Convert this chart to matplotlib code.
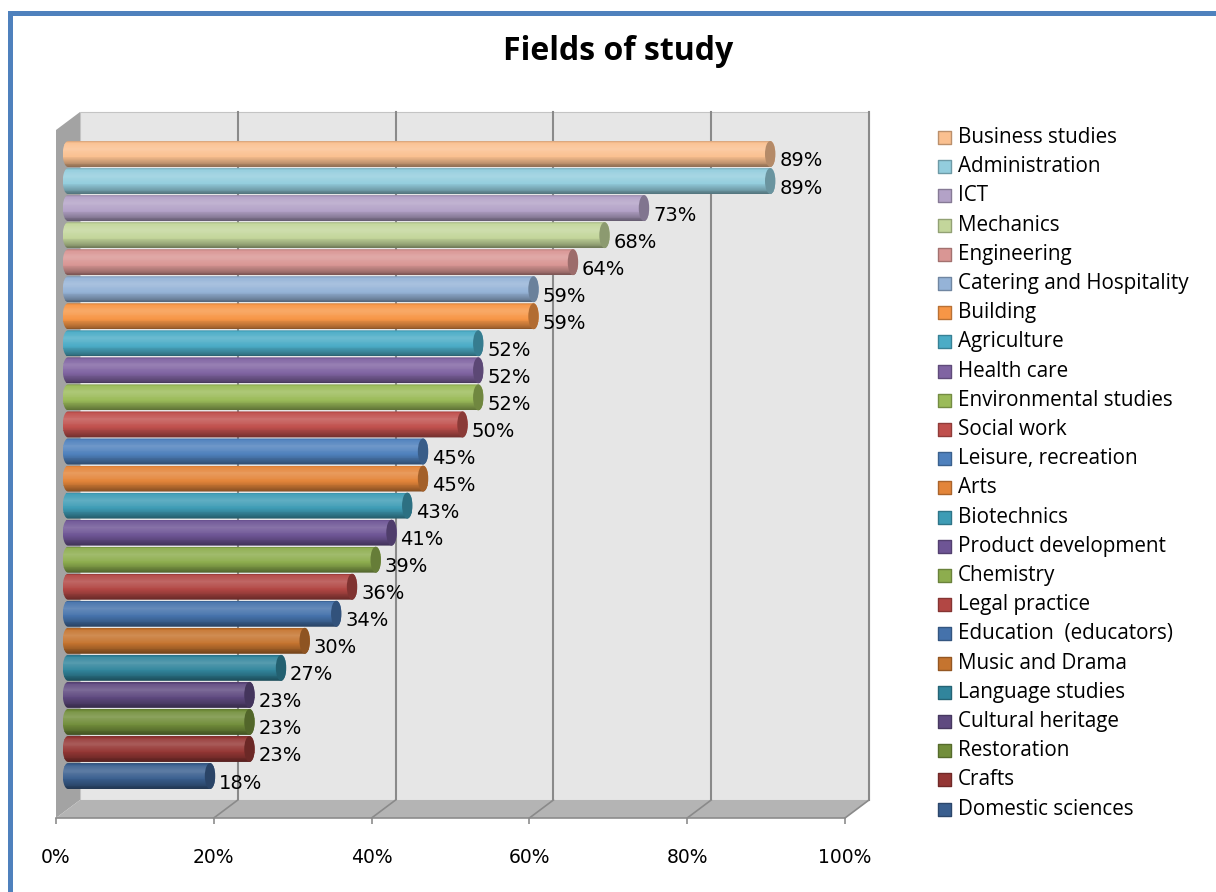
import numpy as np
import matplotlib
matplotlib.use("Agg")
import matplotlib.pyplot as plt
from matplotlib import transforms
from matplotlib.patches import Polygon, Ellipse, Rectangle
from matplotlib.colors import to_rgb

fields = ["Business studies", "Administration", "ICT", "Mechanics", "Engineering",
          "Catering and Hospitality", "Building", "Agriculture", "Health care",
          "Environmental studies", "Social work", "Leisure, recreation", "Arts",
          "Biotechnics", "Product development", "Chemistry", "Legal practice",
          "Education  (educators)", "Music and Drama", "Language studies",
          "Cultural heritage", "Restoration", "Crafts", "Domestic sciences"]
shares = [89, 89, 73, 68, 64, 59, 59, 52, 52, 52, 50, 45, 45, 43, 41, 39, 36, 34,
          30, 27, 23, 23, 23, 18]
colors = ["#FAC090", "#93CDDD", "#B3A2C7", "#C3D69B", "#D99694", "#95B3D7",
          "#F79646", "#4BACC6", "#8064A2", "#9BBB59", "#C0504D", "#4F81BD",
          "#E3853A", "#3E9CB5", "#6E5595", "#8DAD4E", "#B24744", "#4572AB",
          "#C5742F", "#31859C", "#5F4A80", "#728E3B", "#953735", "#3A5F8F"]
ticks = [0, 20, 40, 60, 80, 100]


def shade(c, f):
    rgb = np.array(to_rgb(c))
    if f >= 1:
        return tuple(rgb + (1 - rgb) * (f - 1))
    return tuple(rgb * f)


W, H = 1216, 892
fig = plt.figure(figsize=(W / 100, H / 100), dpi=100)

# front plane of the 3d box
x0, x1, ytop, ybot = 56, 845, 130, 818
ax = fig.add_axes([x0 / W, 1 - ybot / H, (x1 - x0) / W, (ybot - ytop) / H])
n = len(fields)
lo, hi = -1.22, n - 1 + 1.22
ax.set_xlim(0, 100)
ax.set_ylim(hi, lo)
ax.patch.set_visible(False)
for s in ["top", "right", "left"]:
    ax.spines[s].set_visible(False)
ax.spines["bottom"].set_color("#8c8c8c")
ax.spines["bottom"].set_linewidth(1.2)
ax.set_xticks(ticks)
ax.set_xticklabels([f"{t}%" for t in ticks])
ax.set_yticks([])
ax.tick_params(axis="x", length=4.3, width=1.2, color="#8c8c8c", pad=17,
               labelsize=13.5)

# depth of the box in pixels
DX, DY = 24, 18
back = transforms.offset_copy(ax.transData, fig=fig, x=DX, y=DY, units="dots")
mid = transforms.offset_copy(ax.transData, fig=fig, x=DX / 2, y=DY / 2, units="dots")
ident = transforms.IdentityTransform()


def disp(x, y, d):
    p = ax.transData.transform((x, y))
    return p + d * np.array([DX, DY])


# walls and floor
ax.add_patch(Rectangle((0, lo), 100, hi - lo, transform=back, fc="#e6e6e6",
                       ec="#c4c4c4", lw=0.8, clip_on=False, zorder=0))
for g in ticks[1:]:
    ax.plot([g, g], [lo, hi], transform=back, color="#8a8a8a", lw=1.5,
            clip_on=False, zorder=1)
ax.add_patch(Polygon([disp(0, lo, 0), disp(0, lo, 1), disp(0, hi, 1), disp(0, hi, 0)],
                     transform=ident, fc="#a3a3a3", lw=0, clip_on=False, zorder=1))
ax.add_patch(Polygon([disp(0, hi, 0), disp(100, hi, 0), disp(100, hi, 1), disp(0, hi, 1)],
                     transform=ident, fc="#b4b4b4", lw=0, clip_on=False, zorder=1))
for g in ticks[1:]:
    p, q = disp(g, hi, 0), disp(g, hi, 1)
    ax.plot([p[0], q[0]], [p[1], q[1]], transform=ident, color="#8a8a8a", lw=1.2,
            clip_on=False, zorder=1)

# cylinders
h = 0.96
b = h / 2
a = 0.66
ns = 30
prof_t = [0, 0.08, 0.3, 0.6, 0.82, 1.0]
prof_f = [0.84, 1.04, 1.18, 1.0, 0.78, 0.56]
levels = np.interp((np.arange(ns) + 0.5) / ns, prof_t, prof_f)
label_tr = transforms.offset_copy(ax.transData, fig=fig, x=21, y=2, units="dots")

for i, (v, c) in enumerate(zip(shares, colors)):
    t1 = np.linspace(-np.pi / 2, np.pi / 2, 30)
    t2 = np.linspace(np.pi / 2, 3 * np.pi / 2, 30)
    xs = np.concatenate([v + a * np.cos(t1), a * np.cos(t2)])
    ys = np.concatenate([i + b * np.sin(t1), i + b * np.sin(t2)])
    sil = Polygon(np.column_stack([xs, ys]), transform=mid)
    for k in range(ns):
        yk = i - b + k * h / ns
        r = Rectangle((-a, yk), v + 2 * a, h / ns * 1.1, transform=mid,
                      fc=shade(c, levels[k]), lw=0, zorder=3)
        ax.add_patch(r)
        r.set_clip_path(sil)
    ax.add_patch(Ellipse((v, i), 2 * a, h, transform=mid, fc=shade(c, 0.72),
                         lw=0, zorder=4, clip_on=False))
    ax.text(v, i, f"{v}%", transform=label_tr, ha="left", va="center",
            fontsize=14, color="black")

# legend
top, pitch = 137.5, 29.2
lax = fig.add_axes([925 / W, 1 - (top + pitch * (n - 0.5)) / H, 290 / W, pitch * n / H])
lax.set_xlim(0, 290)
lax.set_ylim(n - 0.5, -0.5)
lax.axis("off")
lax.scatter([19] * n, range(n), marker="s", s=(13 * 0.72) ** 2, c=colors,
            edgecolors=[shade(c, 0.75) for c in colors], linewidths=1)
for i, name in enumerate(fields):
    lax.text(33, i, name, ha="left", va="center", fontsize=14.9, family="Open Sans")

fig.text(618 / W, 1 - 52 / H, "Fields of study", ha="center", va="center",
         fontsize=23, fontweight="bold", family="Open Sans")

# blue frame
fig.add_artist(Rectangle((9.5 / W, -0.2), 1.2, (H - 12.5) / H + 0.2,
                         transform=fig.transFigure, fill=False, ec="#4F81BD",
                         lw=3.6, joinstyle="miter", clip_on=False))

fig.savefig("out.png", dpi=100)
